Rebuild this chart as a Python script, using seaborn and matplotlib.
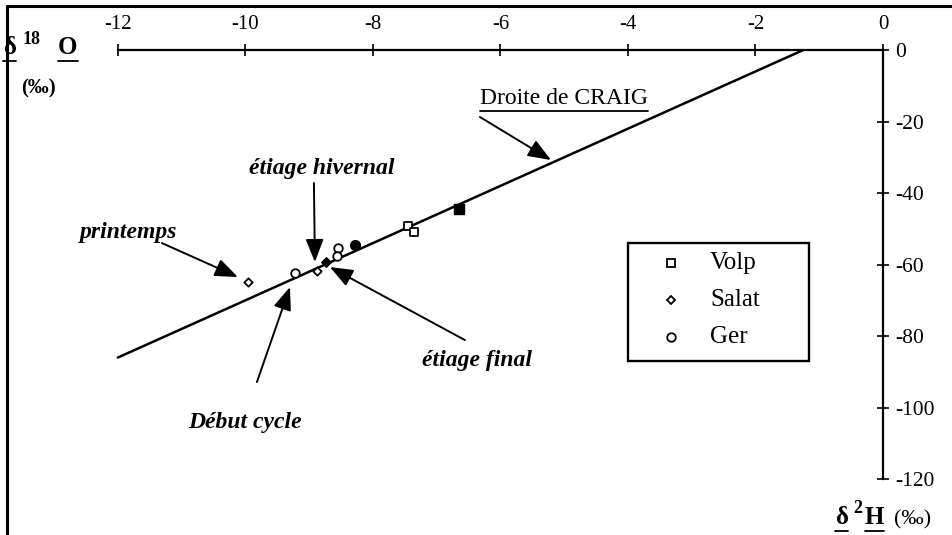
import matplotlib
matplotlib.use("Agg")
import matplotlib.pyplot as plt
import seaborn as sns
import pandas as pd
from matplotlib.lines import Line2D
from matplotlib.patches import Rectangle

sns.set_theme(style="white")
plt.rcParams['font.family'] = ['Liberation Serif', 'DejaVu Serif']
plt.rcParams['axes.unicode_minus'] = False

W, H = 952, 535

# isotope measurements (delta 18O, delta 2H in per mil)
volp_o18 = [-7.45, -7.35, -6.65]
volp_h2 = [-49.3, -51.0, -44.5]
volp_filled = [False, False, True]

salat_o18 = [-9.96, -8.88, -8.74]
salat_h2 = [-64.9, -61.8, -59.3]
salat_filled = [False, False, True]

ger_o18 = [-9.22, -8.55, -8.57, -8.28]
ger_h2 = [-62.4, -55.4, -57.6, -54.5]
ger_filled = [False, False, False, True]

# Craig's global meteoric water line end points
craig_o18 = [-12.0, -1.25]
craig_h2 = [-86.0, 0.0]

x_ticks = [-12, -10, -8, -6, -4, -2, 0]
y_ticks = [0, -20, -40, -60, -80, -100, -120]

sites = ["Volp", "Salat", "Ger"]
markers = {"Volp": "s", "Salat": "D", "Ger": "o"}
msize = {"Volp": 34, "Salat": 18, "Ger": 38}

df = pd.concat([
    pd.DataFrame({"o18": volp_o18, "h2": volp_h2, "filled": volp_filled, "site": "Volp"}),
    pd.DataFrame({"o18": salat_o18, "h2": salat_h2, "filled": salat_filled, "site": "Salat"}),
    pd.DataFrame({"o18": ger_o18, "h2": ger_h2, "filled": ger_filled, "site": "Ger"}),
], ignore_index=True)
craig = pd.DataFrame({"o18": craig_o18, "h2": craig_h2})

fig = plt.figure(figsize=(W / 100, H / 100), dpi=100)
fig.patch.set_facecolor("white")


def fx(px):
    return px / W


def fy(py):
    return 1 - py / H


ax = fig.add_axes([fx(86), fy(497), (883 - 86) / W, (497 - 50) / H])
ax.set_facecolor("white")
ax.set_xlim(-12.5, 0)
ax.set_ylim(-125, 0)

sns.lineplot(data=craig, x="o18", y="h2", color="black", lw=1.8, ax=ax)

for site in sites:
    sub = df[df.site == site]
    sns.scatterplot(data=sub[~sub.filled], x="o18", y="h2", marker=markers[site],
                    s=msize[site], color="white", edgecolor="black", linewidth=1.3,
                    ax=ax, zorder=3, legend=False)
    sns.scatterplot(data=sub[sub.filled], x="o18", y="h2", marker=markers[site],
                    s=msize[site] * 1.3, color="black", edgecolor="black", linewidth=1.0,
                    ax=ax, zorder=3, legend=False)

# axes: only top (x) and right (y) lines
for side in ["left", "bottom"]:
    ax.spines[side].set_visible(False)
ax.spines["top"].set_bounds(-12, 0)
ax.spines["right"].set_bounds(-120, 0)
for side in ["top", "right"]:
    ax.spines[side].set_linewidth(1.6)
    ax.spines[side].set_color("black")
ax.xaxis.tick_top()
ax.yaxis.tick_right()
ax.set_xticks(x_ticks)
ax.set_yticks(y_ticks)
ax.set_xticklabels([str(v) for v in x_ticks])
ax.set_yticklabels([str(v) for v in y_ticks])
ax.tick_params(axis="x", direction="inout", length=9, width=1.2, labelsize=15,
               pad=7, colors="black")
ax.tick_params(axis="y", direction="inout", length=9, width=1.2, labelsize=15.5,
               pad=4, colors="black")
ax.set_xlabel("")
ax.set_ylabel("")
ax.grid(False)

# arrows with labels
arrow_kw = dict(arrowstyle="-|>,head_length=1.4,head_width=0.55", color="black",
                lw=1.4, shrinkA=0, shrinkB=0, mutation_scale=10)
ann_font = dict(fontsize=17, fontweight="bold", fontstyle="italic", color="black")


def to_data(px, py):
    return (px - 883) / 63.75, -(py - 50) / 3.575


def arrow(p0, p1):
    ax.annotate("", xy=to_data(*p1), xytext=to_data(*p0), arrowprops=arrow_kw,
                annotation_clip=False)


arrow((480, 117), (551, 160))
arrow((314, 183), (315, 262))
arrow((162, 243), (238, 277))
arrow((257, 382), (290, 287))
arrow((465, 340), (330, 267))

fig.text(fx(322), fy(174), "étiage hivernal", ha="center", va="baseline", **ann_font)
fig.text(fx(128), fy(238), "printemps", ha="center", va="baseline", **ann_font)
fig.text(fx(245), fy(428), "Début cycle", ha="center", va="baseline", **ann_font)
fig.text(fx(477), fy(366), "étiage final", ha="center", va="baseline", **ann_font)
craig_txt = fig.text(fx(564), fy(104), "Droite de CRAIG", ha="center", va="baseline",
                     fontsize=17, color="black")

# axis titles
lab_kw = dict(fontweight="bold", color="black", va="baseline")
d1 = fig.text(fx(3), fy(54), "δ", fontsize=18, **lab_kw)
fig.text(fx(23), fy(44), "18", fontsize=13, **lab_kw)
o1 = fig.text(fx(58), fy(54), "O", fontsize=18, **lab_kw)
fig.text(fx(21), fy(93), "(‰)", fontsize=15, **lab_kw)

d2 = fig.text(fx(835), fy(524), "δ", fontsize=18, **lab_kw)
fig.text(fx(853), fy(513), "2", fontsize=13, **lab_kw)
h2t = fig.text(fx(865), fy(524), "H", fontsize=18, **lab_kw)
fig.text(fx(894), fy(524), "(‰)", fontsize=16, color="black", va="baseline")

# legend box
fig.add_artist(Rectangle((fx(628), fy(361)), (809 - 628) / W, (361 - 243) / H,
                         transform=fig.transFigure, facecolor="white",
                         edgecolor="black", lw=1.7, zorder=5))
leg_y = {"Volp": 263, "Salat": 300, "Ger": 337}
for site in sites:
    fig.add_artist(Line2D([fx(671)], [fy(leg_y[site])], transform=fig.transFigure,
                          marker=markers[site], markersize=msize[site] ** 0.5,
                          markerfacecolor="white", markeredgecolor="black",
                          markeredgewidth=1.3, linestyle="none", zorder=6))
    fig.text(fx(710), fy(leg_y[site]), site, fontsize=18, color="black",
             va="center", ha="left", zorder=6)

# page frame lines
fig.add_artist(Line2D([fx(7), 1], [fy(6), fy(6)], transform=fig.transFigure,
                      color="black", lw=2.2))
fig.add_artist(Line2D([fx(7), fx(7)], [fy(6), 0], transform=fig.transFigure,
                      color="black", lw=2.2))

# underlines
fig.canvas.draw()
r = fig.canvas.get_renderer()
for t in [craig_txt, d1, o1, d2, h2t]:
    bb = t.get_window_extent(renderer=r)
    yline = (bb.y0 - 2) / H
    fig.add_artist(Line2D([bb.x0 / W, bb.x1 / W], [yline, yline],
                          transform=fig.transFigure, color="black", lw=1.3))

fig.savefig("out.png", dpi=100, facecolor="white")
